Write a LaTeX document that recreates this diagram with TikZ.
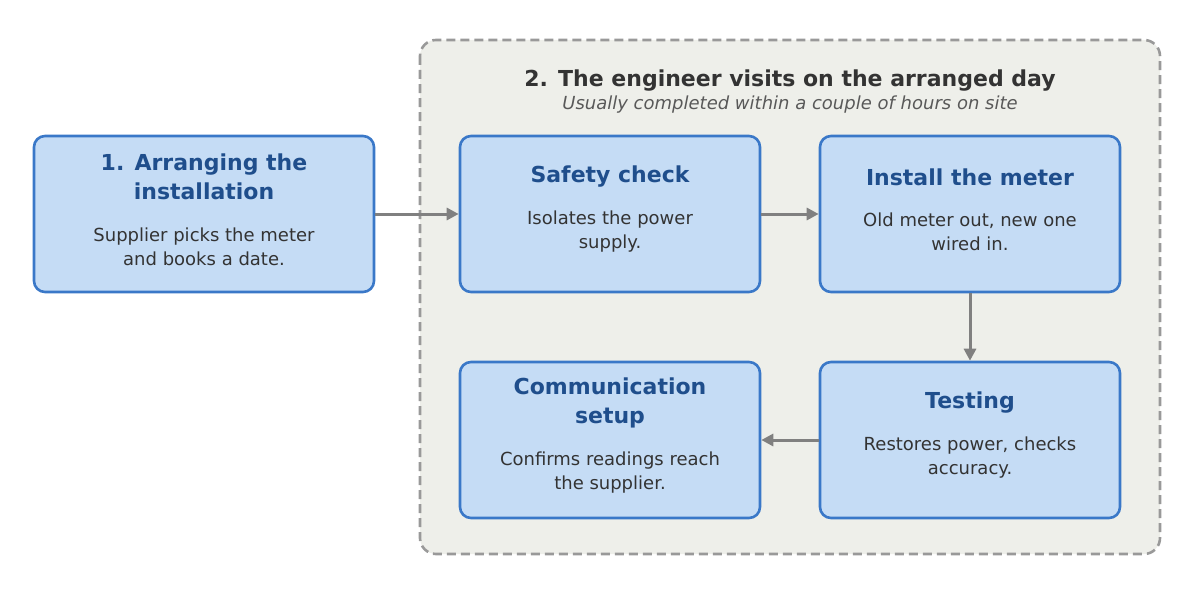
\documentclass[tikz,border=0pt]{standalone}
\usepackage{fontspec}
\setmainfont{DejaVu Sans}
\usetikzlibrary{arrows.meta}
\definecolor{ttl}{HTML}{1F4E8C}
\definecolor{bdy}{HTML}{333333}
\definecolor{brd}{HTML}{3A78C8}
\definecolor{fil}{HTML}{C5DCF5}
\definecolor{grp}{HTML}{EEEFEA}
\definecolor{grb}{HTML}{999999}
\definecolor{arr}{HTML}{808080}
\tikzset{
  stepbox/.style={draw=brd, fill=fil, line width=2.6pt, rounded corners=11pt,
    minimum width=300pt, minimum height=156pt, inner sep=0pt},
  ttltxt/.style={align=center, text=ttl, font=\fontsize{22}{29}\selectfont\bfseries, inner sep=0pt},
  bdytxt/.style={align=center, text=bdy, font=\fontsize{18}{24}\selectfont, inner sep=0pt},
  conn/.style={draw=arr, line width=3pt, -{Triangle[length=12pt,width=12pt]}}
}
\begin{document}
\begin{tikzpicture}[x=1pt,y=-1pt]
\useasboundingbox (0,0) rectangle (1194,594);
\draw[draw=grb, fill=grp, line width=2.6pt, dash pattern=on 9pt off 5pt, rounded corners=16pt] (420,40) rectangle (1160,554);
\node[font=\fontsize{22}{26}\selectfont\bfseries, text=bdy] (t) at (790,81) {2. The engineer visits on the arranged day};
\node[font=\fontsize{18}{22}\selectfont\itshape, text=black!65] (s) at (790,105) {Usually completed within a couple of hours on site};
\node[stepbox, minimum width=340pt] (a) at (204,214) {};
\node[stepbox] (b) at (610,214) {};
\node[stepbox] (c) at (970,214) {};
\node[stepbox] (d) at (970,440) {};
\node[stepbox] (e) at (610,440) {};
\node[ttltxt] (at) at (204,177) {1. Arranging the\\installation};
\node[bdytxt] (ab) at (204,247) {Supplier picks the meter\\and books a date.};
\node[ttltxt] (bt) at (610,177) {Safety check};
\node[bdytxt] (bb) at (610,232) {Isolates the power\\supply.};
\node[ttltxt] (ct) at (970,177) {Install the meter};
\node[bdytxt] (cb) at (970,232) {Old meter out, new one\\wired in.};
\node[ttltxt] (dt) at (970,403) {Testing};
\node[bdytxt] (db) at (970,458) {Restores power, checks\\accuracy.};
\node[ttltxt] (et) at (610,403) {Communication\\setup};
\node[bdytxt] (eb) at (610,473) {Confirms readings reach\\the supplier.};
\draw[conn] (a) -- (b);
\draw[conn] (b) -- (c);
\draw[conn] (c) -- (d);
\draw[conn] (d) -- (e);
\end{tikzpicture}
\end{document}
